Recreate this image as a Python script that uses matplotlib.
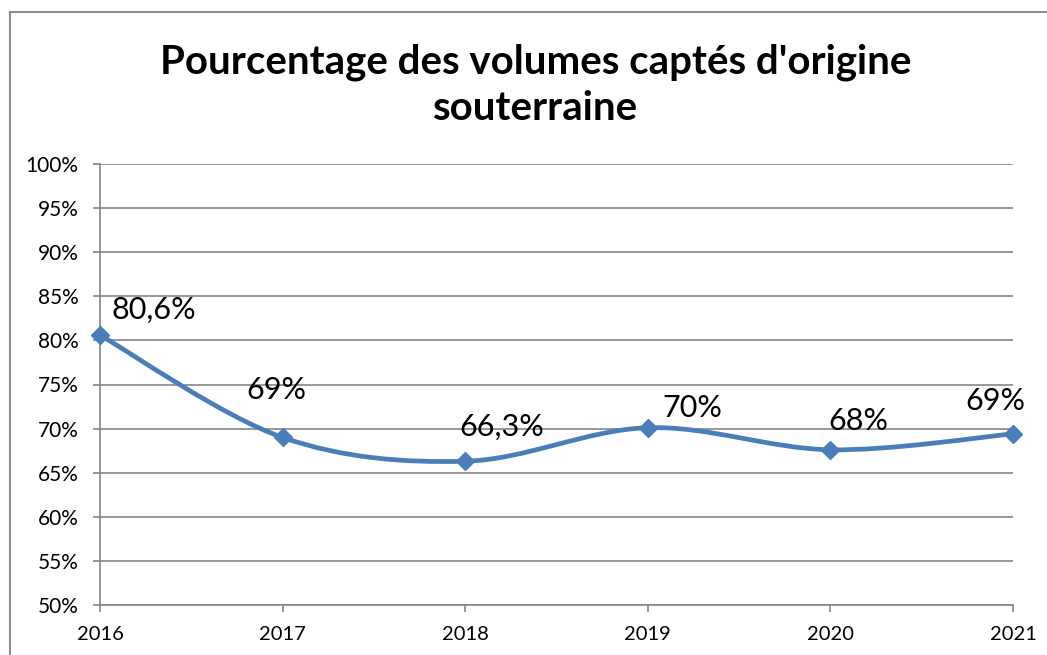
import matplotlib.pyplot as plt
from matplotlib.path import Path
from matplotlib.patches import PathPatch
from matplotlib.lines import Line2D

plt.rcParams['font.family'] = ['Lato', 'DejaVu Sans']

years = ["2016", "2017", "2018", "2019", "2020", "2021"]
values = [80.6, 69.0, 66.3, 70.1, 67.6, 69.4]
labels = ["80,6%", "69%", "66,3%", "70%", "68%", "69%"]
y_ticks = [50, 55, 60, 65, 70, 75, 80, 85, 90, 95, 100]

# label offsets in pixels (dx, dy) from each point
label_offsets = [(54, 25), (-6, 47), (37, 34), (45, 20), (28, 29), (-18, 33)]

BLUE = "#4a7ebb"
GRID = "#868686"

fig = plt.figure(figsize=(10.47, 6.55), dpi=100)
ax = fig.add_axes([100 / 1047, 50 / 655, 913 / 1047, 441 / 655])

xs = list(range(len(values)))

# smooth line like excel (bezier through the points)
verts = [(xs[0], values[0])]
codes = [Path.MOVETO]
n = len(xs)
for i in range(n - 1):
    p0 = (xs[max(i - 1, 0)], values[max(i - 1, 0)])
    p1 = (xs[i], values[i])
    p2 = (xs[i + 1], values[i + 1])
    p3 = (xs[min(i + 2, n - 1)], values[min(i + 2, n - 1)])
    c1 = (p1[0] + (p2[0] - p0[0]) / 6, p1[1] + (p2[1] - p0[1]) / 6)
    c2 = (p2[0] - (p3[0] - p1[0]) / 6, p2[1] - (p3[1] - p1[1]) / 6)
    verts += [c1, c2, p2]
    codes += [Path.CURVE4] * 3
ax.add_patch(PathPatch(Path(verts, codes), facecolor="none", edgecolor=BLUE,
                       lw=3.4, capstyle="round", joinstyle="round", zorder=3))
ax.plot(xs, values, linestyle="none", marker="D", markersize=9, color=BLUE, zorder=4,
        clip_on=False)

for x, v, lab, (dx, dy) in zip(xs, values, labels, label_offsets):
    ax.annotate(lab, (x, v), xytext=(dx, dy), textcoords="offset pixels",
                ha="center", va="center", fontsize=22, color="black")

ax.set_xlim(0, n - 1)
ax.set_ylim(50, 100)
ax.set_xticks(xs)
ax.set_xticklabels(years, fontsize=14.5)
ax.set_yticks(y_ticks)
ax.set_yticklabels([f"{t}%" for t in y_ticks], fontsize=15)
ax.yaxis.grid(True, color=GRID, lw=1.2)
ax.set_axisbelow(True)
ax.tick_params(axis="both", length=5, width=1.2, color=GRID)
ax.tick_params(axis="y", pad=10.5)
ax.tick_params(axis="x", pad=10)
for side in ["top", "right"]:
    ax.spines[side].set_visible(False)
for side in ["left", "bottom"]:
    ax.spines[side].set_color(GRID)
    ax.spines[side].set_linewidth(1.2)

fig.text(536 / 1047, 1 - 62 / 655, "Pourcentage des volumes captés d'origine",
         ha="center", va="center", fontsize=29, fontweight="bold")
fig.text(536 / 1047, 1 - 108 / 655, "souterraine",
         ha="center", va="center", fontsize=29, fontweight="bold")

# chart area border
fig.add_artist(Line2D([10 / 1047, 10 / 1047], [0, 1 - 12 / 655], transform=fig.transFigure,
                      color="#8c8c8c", lw=1.5))
fig.add_artist(Line2D([10 / 1047, 1], [1 - 12 / 655, 1 - 12 / 655], transform=fig.transFigure,
                      color="#8c8c8c", lw=1.5))

fig.savefig("out.png", dpi=100)
